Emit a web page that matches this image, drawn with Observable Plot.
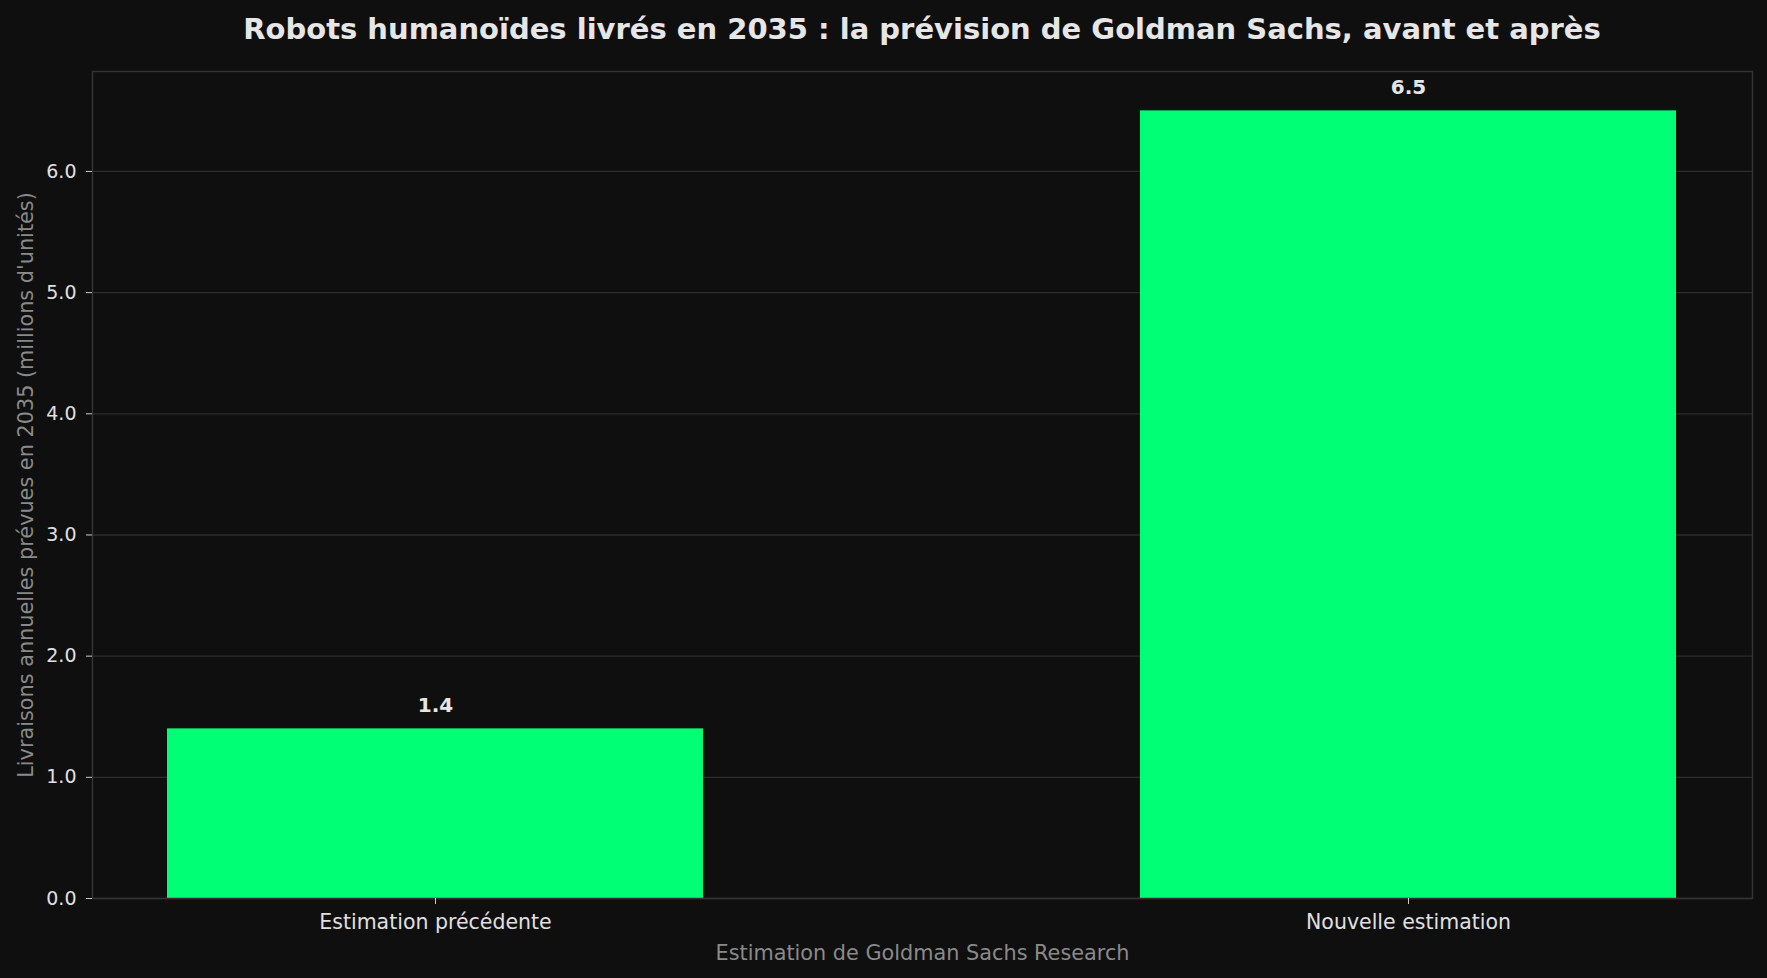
<!DOCTYPE html>
<html>
<head>
<meta charset="utf-8">
<script src="https://cdn.jsdelivr.net/npm/d3@7"></script>
<script src="https://cdn.jsdelivr.net/npm/@observablehq/plot@0.6"></script>
<style>
  html, body { margin: 0; padding: 0; background: #0f0f0f; }
  #title { height: 57px; width: 1767px; box-sizing: border-box; padding-top: 12px; padding-left: 92px; padding-right: 15px;
    text-align: center; font-family: "DejaVu Sans", sans-serif; font-weight: bold; font-size: 29px; color: #e6e6e6; line-height: 34px; }
  svg { display: block; }
</style>
</head>
<body>
<div id="title">Robots humanoïdes livrés en 2035 : la prévision de Goldman Sachs, avant et après</div>
<div id="chart"></div>
<script>
const categories = ["Estimation précédente", "Nouvelle estimation"];
const values = [1.4, 6.5];
const valueLabels = ["1.4", "6.5"];
const yTicks = [0, 1, 2, 3, 4, 5, 6];
const xTitle = "Estimation de Goldman Sachs Research";
const yTitle = "Livraisons annuelles prévues en 2035 (millions d'unités)";

const data = categories.map((c, i) => ({category: c, value: values[i], label: valueLabels[i]}));

const chart = Plot.plot({
  width: 1767,
  height: 921,
  marginTop: 14,
  marginLeft: 92,
  marginRight: 15,
  marginBottom: 80,
  style: {background: "#0f0f0f", fontFamily: "DejaVu Sans, sans-serif", color: "#e0e0e0"},
  x: {domain: categories, paddingInner: 0.449, paddingOuter: 0.0775, align: 0.5},
  y: {domain: [0, d3.max(values) * 1.05]},
  marks: [
    Plot.gridY(yTicks, {stroke: "#2d2d2d", strokeOpacity: 1, strokeWidth: 1.3}),
    Plot.barY(data, {x: "category", y: "value", fill: "#00ff74"}),
    Plot.frame({stroke: "#333333", strokeWidth: 1.5}),
    Plot.axisY({ticks: yTicks, tickFormat: d => d.toFixed(1), tickSize: 6, tickPadding: 10,
      stroke: "#cccccc", fill: "#e0e0e0", fontSize: 19,
      label: yTitle, labelAnchor: "center", labelArrow: "none", labelOffset: 74}),
    Plot.axisX({tickSize: 6, tickPadding: 10, stroke: "#cccccc", fill: "#e0e0e0", fontSize: 20.5,
      label: xTitle, labelAnchor: "center", labelArrow: "none", labelOffset: 61}),
    Plot.text(data, {x: "category", y: "value", text: "label", dy: -23, fontWeight: "bold",
      fontSize: 20, fill: "#e6e6e6"})
  ]
});
document.getElementById("chart").appendChild(chart);
// axis label colors (grey)
chart.querySelectorAll("g[aria-label='y-axis label'] text, g[aria-label='x-axis label'] text").forEach(t => {
  t.setAttribute("fill", "#8a8a8a");
  t.setAttribute("font-size", "20.8");
});
</script>
</body>
</html>
